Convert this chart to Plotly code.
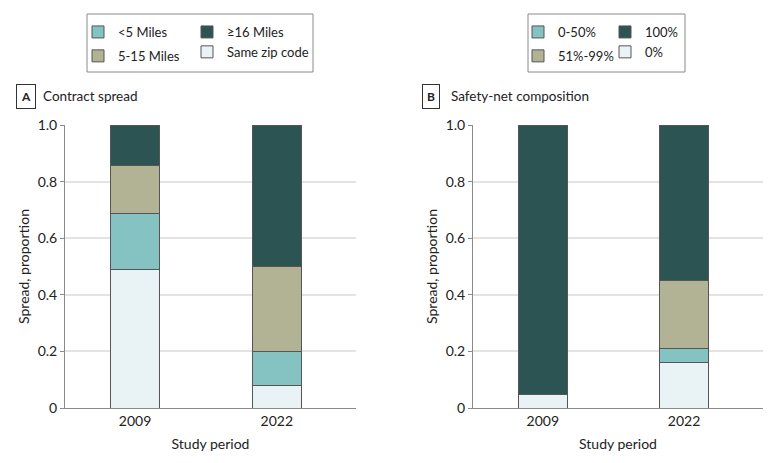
import plotly.graph_objects as go

periods = ["2009", "2022"]

# Panel A: contract spread (stacked from bottom)
spread_labels = ["Same zip code", "<5 Miles", "5-15 Miles", "≥16 Miles"]
same_zip = [0.488, 0.080]
under_5 = [0.199, 0.118]
miles_5_15 = [0.171, 0.303]
over_16 = [0.142, 0.499]

# Panel B: safety-net composition
sn_labels = ["0%", "0-50%", "51%-99%", "100%"]
sn_0 = [0.048, 0.162]
sn_0_50 = [0.000, 0.050]
sn_51_99 = [0.000, 0.238]
sn_100 = [0.952, 0.550]

colors = ["#e9f3f5", "#84c3c2", "#b2b394", "#2b5453"]
line_col = "#555555"
font = "Lato"

fig = go.Figure()

# legend column assignment: col1 = 2nd, 3rd series; col2 = 4th, 1st series
leg_a = ["legend2", "legend", "legend", "legend2"]
leg_b = ["legend4", "legend3", "legend3", "legend4"]

for i, (name, vals) in enumerate(zip(spread_labels, [same_zip, under_5, miles_5_15, over_16])):
    fig.add_trace(go.Bar(
        x=periods, y=vals, name=name,
        marker=dict(color=colors[i], line=dict(color=line_col, width=1)),
        width=0.345, xaxis="x", yaxis="y",
        legend=leg_a[i], legendgroup="a" + name,
    ))

for i, (name, vals) in enumerate(zip(sn_labels, [sn_0, sn_0_50, sn_51_99, sn_100])):
    fig.add_trace(go.Bar(
        x=periods, y=vals, name=name,
        marker=dict(color=colors[i], line=dict(color=line_col, width=1)),
        width=0.345, xaxis="x2", yaxis="y2",
        legend=leg_b[i], legendgroup="b" + name,
    ))

W, H = 780, 463

def px_x(v):
    return v / W

def px_y(v):
    return 1 - v / H

yax = dict(
    range=[0, 1], tickvals=[0, 0.2, 0.4, 0.6, 0.8, 1.0],
    ticktext=["0", "0.2", "0.4", "0.6", "0.8", "1.0"],
    showgrid=True, gridcolor="#e3e3e3", gridwidth=1.5,
    showline=True, linecolor="#8a8a8a", linewidth=1,
    ticks="outside", ticklen=4, tickcolor="#8a8a8a",
    tickfont=dict(size=14, color="#222"),
    title=dict(text="Spread, proportion", font=dict(size=14, color="#222"), standoff=4),
    zeroline=False, fixedrange=True, automargin=False,
)
xax = dict(
    type="category", range=[-0.494, 1.559],
    showline=True, linecolor="#8a8a8a", linewidth=1,
    ticks="", tickfont=dict(size=14, color="#222"),
    title=dict(text="Study period", font=dict(size=14, color="#222"), standoff=11),
    showgrid=False, automargin=False, fixedrange=True,
)

leg_common = dict(
    orientation="v", yanchor="top", xanchor="left",
    font=dict(size=13, color="#222", family=font),
    bgcolor="rgba(0,0,0,0)", tracegroupgap=4,
    itemclick=False, itemdoubleclick=False,
)

fig.update_layout(
    width=W, height=H,
    barmode="stack",
    plot_bgcolor="white", paper_bgcolor="white",
    font=dict(family=font, size=14, color="#222"),
    margin=dict(l=0, r=0, t=0, b=0, autoexpand=False),
    xaxis=dict(xax, domain=[px_x(65), px_x(356)], anchor="y"),
    yaxis=dict(yax, domain=[px_y(408), px_y(125)], anchor="x"),
    xaxis2=dict(xax, domain=[px_x(473), px_x(763)], anchor="y2"),
    yaxis2=dict(yax, domain=[px_y(408), px_y(125)], anchor="x2"),
    legend=dict(leg_common, x=px_x(78), y=px_y(17)),
    legend2=dict(leg_common, x=px_x(187), y=px_y(17), traceorder="reversed"),
    legend3=dict(leg_common, x=px_x(518), y=px_y(17)),
    legend4=dict(leg_common, x=px_x(605), y=px_y(17), traceorder="reversed"),
    showlegend=True,
)

# legend frames
fig.add_shape(type="rect", xref="paper", yref="paper",
              x0=px_x(87), x1=px_x(313), y0=px_y(72), y1=px_y(14),
              line=dict(color="#8a8a8a", width=1))
fig.add_shape(type="rect", xref="paper", yref="paper",
              x0=px_x(528), x1=px_x(685), y0=px_y(72), y1=px_y(14),
              line=dict(color="#8a8a8a", width=1))

# panel labels
for letter, title, lx, tx in [("A", "Contract spread", 26, 41), ("B", "Safety-net composition", 431, 449)]:
    fig.add_annotation(text="<b>" + letter + "</b>", xref="paper", yref="paper",
                       x=px_x(lx), y=px_y(96), xanchor="center", yanchor="middle",
                       showarrow=False, font=dict(size=12, color="#222"),
                       bordercolor="#333", borderwidth=1, borderpad=4)
    fig.add_annotation(text=title, xref="paper", yref="paper",
                       x=px_x(tx), y=px_y(96), xanchor="left", yanchor="middle",
                       showarrow=False, font=dict(size=13.5, color="#222"))

fig.write_html("out.html", config={"displayModeBar": False},
               post_script="document.body.style.margin='0px';")
